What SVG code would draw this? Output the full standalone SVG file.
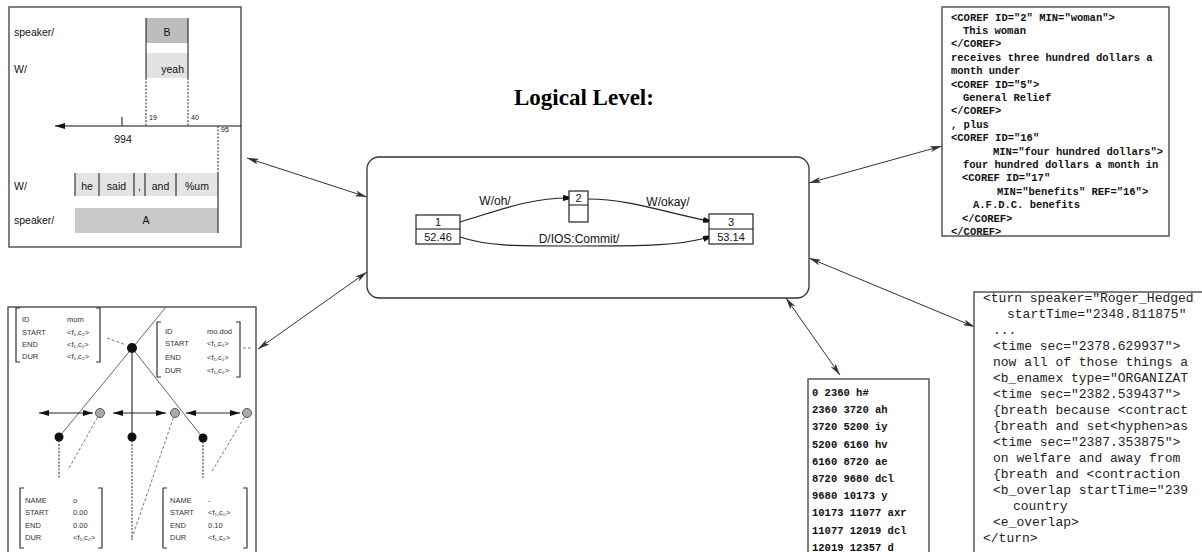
<svg xmlns="http://www.w3.org/2000/svg" width="1202" height="552" viewBox="0 0 1202 552">
<defs>
<style>
.panel{fill:#fff;stroke:#555;stroke-width:1.5}
.sans{font-family:"Liberation Sans",Arial,sans-serif;fill:#111}
.tl{font-size:10.5px}
.tiny{font-size:7px}
.avm{font-family:"Liberation Sans",Arial,sans-serif;font-size:7.5px;fill:#333}
.mono{font-family:"Liberation Mono","Courier New",monospace;fill:#111}
.tr{font-size:10.5px;font-weight:bold}
.bm{font-size:10.5px;font-weight:bold}
.br{font-size:13px;fill:#222}
.ln{stroke:#111;stroke-width:1;fill:none}
.gl{stroke:#666;stroke-width:1;fill:none}
.dot{stroke:#222;stroke-width:1;stroke-dasharray:2 1.5;fill:none}
.dash{stroke:#777;stroke-width:1;stroke-dasharray:3 2;fill:none}
.conn{stroke:#333;stroke-width:1;fill:none;marker-start:url(#ah);marker-end:url(#ah)}
.edge{stroke:#222;stroke-width:1.2;fill:none;marker-end:url(#eh)}
.node{fill:#fff;stroke:#222;stroke-width:1.2}
.br2{stroke:#333;stroke-width:1.2;fill:none}
</style>
<marker id="ah" viewBox="0 0 12 6" refX="12" refY="3" markerWidth="12" markerHeight="6" markerUnits="userSpaceOnUse" orient="auto-start-reverse">
<path d="M0,0 L12,3 L0,6 L3,3 z" fill="#333"/>
</marker>
<marker id="eh" viewBox="0 0 6 6" refX="6" refY="3" markerWidth="6" markerHeight="6" markerUnits="userSpaceOnUse" orient="auto">
<path d="M0,0 L6,1.5 L6,4.5 L0,6 z" fill="#111"/>
</marker>
<marker id="la" viewBox="0 0 10 6" refX="10" refY="3" markerWidth="10" markerHeight="6" markerUnits="userSpaceOnUse" orient="auto-start-reverse">
<path d="M0,0 L10,3 L0,6 z" fill="#111"/>
</marker>
</defs>

<g id="title">
<text x="514" y="105" font-family="'Liberation Serif','Times New Roman',serif" font-weight="bold" font-size="23" fill="#000">Logical Level:</text>
</g>

<g id="connectors">
<line class="conn" x1="247" y1="158" x2="367" y2="197"/>
<line class="conn" x1="258" y1="349" x2="367" y2="272"/>
<line class="conn" x1="809" y1="183" x2="942" y2="146"/>
<line class="conn" x1="809" y1="258" x2="975" y2="327"/>
<line class="conn" x1="786" y1="298" x2="840" y2="375"/>
</g>

<g id="timeline-panel">
<rect class="panel" x="9" y="7" width="232" height="240"/>
<rect x="146" y="18" width="42" height="25" fill="#bdbdbd"/>
<rect x="146" y="53" width="42" height="25" fill="#e2e2e2"/>
<line class="ln" x1="146" y1="18" x2="146" y2="78"/>
<line class="ln" x1="188" y1="18" x2="188" y2="78"/>
<line class="dot" x1="146" y1="78" x2="146" y2="126"/>
<line class="dot" x1="188" y1="78" x2="188" y2="126"/>
<text class="sans tl" x="14" y="36">speaker/</text>
<text class="sans tl" x="14" y="73">W/</text>
<text class="sans tl" x="167" y="36" text-anchor="middle">B</text>
<text class="sans tl" x="184" y="73" text-anchor="end">yeah</text>
<line x1="241" y1="126" x2="55" y2="126" stroke="#111" stroke-width="1.2" marker-end="url(#la)"/>
<line class="ln" x1="122" y1="117" x2="122" y2="126"/>
<text class="sans tiny" x="149" y="120">19</text>
<text class="sans tiny" x="191" y="120">40</text>
<text class="sans tl" x="123" y="143" text-anchor="middle">994</text>
<text class="sans tiny" x="221" y="132">95</text>
<line class="dot" x1="218" y1="126" x2="218" y2="172"/>
<rect x="75" y="173" width="143" height="23" fill="#e4e4e4"/>
<rect x="75" y="208" width="143" height="25" fill="#c8c8c8"/>
<line class="ln" x1="218" y1="172" x2="218" y2="233"/>
<line class="ln" x1="75" y1="173" x2="75" y2="196"/>
<line class="ln" x1="99" y1="173" x2="99" y2="196"/>
<line class="ln" x1="134" y1="173" x2="134" y2="196"/>
<line class="ln" x1="145" y1="173" x2="145" y2="196"/>
<line class="ln" x1="176" y1="173" x2="176" y2="196"/>
<text class="sans tl" x="14" y="190">W/</text>
<text class="sans tl" x="87" y="190" text-anchor="middle">he</text>
<text class="sans tl" x="116.5" y="190" text-anchor="middle">said</text>
<text class="sans tl" x="139.5" y="190" text-anchor="middle">,</text>
<text class="sans tl" x="160.5" y="190" text-anchor="middle">and</text>
<text class="sans tl" x="197" y="190" text-anchor="middle">%um</text>
<text class="sans tl" x="14" y="224">speaker/</text>
<text class="sans tl" x="146" y="224" text-anchor="middle">A</text>
</g>

<g id="logical-level">
<rect x="367" y="157" width="442" height="141" rx="12" ry="12" fill="#fff" stroke="#333" stroke-width="1.3"/>
<path class="edge" d="M460,222 C500,210 530,198 569,198"/>
<path class="edge" d="M588,199 C630,199 670,214 709,221"/>
<path class="edge" d="M460,237 C490,247 520,246 580,246 C640,246 680,246 709,237"/>
<text class="sans" font-size="12" x="495" y="205" text-anchor="middle">W/oh/</text>
<text class="sans" font-size="12" x="668" y="206" text-anchor="middle">W/okay/</text>
<text class="sans" font-size="12" x="579" y="243" text-anchor="middle">D/IOS:Commit/</text>
<g id="node1">
<rect class="node" x="416" y="215" width="44" height="29"/>
<line class="ln" x1="416" y1="229" x2="460" y2="229"/>
<text class="sans" font-size="11" x="438" y="226" text-anchor="middle">1</text>
<text class="sans" font-size="11" x="438" y="241" text-anchor="middle">52.46</text>
</g>
<g id="node2">
<rect class="node" x="569" y="191" width="19" height="31"/>
<line class="ln" x1="569" y1="205" x2="588" y2="205"/>
<text class="sans" font-size="11" x="578.5" y="202" text-anchor="middle">2</text>
</g>
<g id="node3">
<rect class="node" x="709" y="214" width="44" height="30"/>
<line class="ln" x1="709" y1="229" x2="753" y2="229"/>
<text class="sans" font-size="11" x="731" y="226" text-anchor="middle">3</text>
<text class="sans" font-size="11" x="731" y="241" text-anchor="middle">53.14</text>
</g>
</g>

<g id="coref-panel">
<rect class="panel" x="942" y="7" width="227" height="229"/>
<text class="mono tr" x="951" y="20.5">&lt;COREF ID="2" MIN="woman"&gt;</text>
<text class="mono tr" x="963" y="34">This woman</text>
<text class="mono tr" x="951" y="47.3">&lt;/COREF&gt;</text>
<text class="mono tr" x="951" y="60.7">receives three hundred dollars a</text>
<text class="mono tr" x="951" y="74.1">month under</text>
<text class="mono tr" x="951" y="87.5">&lt;COREF ID="5"&gt;</text>
<text class="mono tr" x="963" y="100.9">General Relief</text>
<text class="mono tr" x="951" y="114.3">&lt;/COREF&gt;</text>
<text class="mono tr" x="951" y="127.7">, plus</text>
<text class="mono tr" x="951" y="141.1">&lt;COREF ID="16"</text>
<text class="mono tr" x="993" y="154.5">MIN="four hundred dollars"&gt;</text>
<text class="mono tr" x="963" y="167.9">four hundred dollars a month in</text>
<text class="mono tr" x="962" y="181.3">&lt;COREF ID="17"</text>
<text class="mono tr" x="997" y="194.7">MIN="benefits" REF="16"&gt;</text>
<text class="mono tr" x="973" y="208.1">A.F.D.C. benefits</text>
<text class="mono tr" x="962" y="221.5">&lt;/COREF&gt;</text>
<text class="mono tr" x="951" y="234.9">&lt;/COREF&gt;</text>
</g>

<g id="feature-tree-panel">
<rect class="panel" x="8" y="307" width="248" height="250"/>
<line class="gl" x1="166" y1="307" x2="59" y2="437"/>
<line class="ln" x1="132" y1="348" x2="132" y2="437"/>
<line class="gl" x1="132" y1="348" x2="203" y2="438"/>
<line x1="93" y1="413" x2="39" y2="413" stroke="#222" marker-start="url(#la)" marker-end="url(#la)"/>
<line x1="113" y1="413" x2="166" y2="413" stroke="#222" marker-start="url(#la)" marker-end="url(#la)"/>
<line x1="186" y1="413" x2="240" y2="413" stroke="#222" marker-start="url(#la)" marker-end="url(#la)"/>
<line class="dot" x1="59" y1="437" x2="59" y2="478"/>
<line class="dot" x1="132" y1="437" x2="132" y2="540"/>
<line class="dot" x1="203" y1="438" x2="203" y2="478"/>
<line class="dash" x1="100" y1="413" x2="68" y2="470"/>
<line class="dash" x1="175" y1="413" x2="132" y2="538"/>
<line class="dash" x1="247" y1="413" x2="212" y2="471"/>
<line class="dash" x1="107" y1="338" x2="126" y2="345"/>
<line class="dash" x1="243" y1="348" x2="253" y2="348"/>
<circle cx="132" cy="348" r="5" fill="#111"/>
<circle cx="59" cy="437" r="4.5" fill="#111"/>
<circle cx="132" cy="437" r="4.5" fill="#111"/>
<circle cx="203" cy="438" r="4.5" fill="#111"/>
<circle cx="100" cy="413" r="4.5" fill="#aaa" stroke="#555"/>
<circle cx="175" cy="413" r="4.5" fill="#aaa" stroke="#555"/>
<circle cx="247" cy="413" r="4.5" fill="#aaa" stroke="#555"/>
<g id="avm-top-left">
<path class="br2" d="M20,308 H16 V362 H20 M96,308 H100 V362 H96"/>
<text class="avm" x="22" y="322">ID</text><text class="avm" x="67" y="322">mom</text>
<text class="avm" x="22" y="335">START</text><text class="avm" x="67" y="335">&lt;f₁,c₂&gt;</text>
<text class="avm" x="22" y="347">END</text><text class="avm" x="67" y="347">&lt;f₁,c₁&gt;</text>
<text class="avm" x="22" y="359">DUR</text><text class="avm" x="67" y="359">&lt;f₁,c₂&gt;</text>
</g>
<g id="avm-top-right">
<path class="br2" d="M161,322 H157 V377 H161 M236,322 H240 V377 H236"/>
<text class="avm" x="165" y="334">ID</text><text class="avm" x="207" y="334">mo.dod</text>
<text class="avm" x="165" y="346">START</text><text class="avm" x="207" y="346">&lt;f₁,c₁&gt;</text>
<text class="avm" x="165" y="360">END</text><text class="avm" x="207" y="360">&lt;f₁,c₁&gt;</text>
<text class="avm" x="165" y="373">DUR</text><text class="avm" x="207" y="373">&lt;f₁,c₂&gt;</text>
</g>
<g id="avm-bottom-left">
<path class="br2" d="M24,488 H20 V548 H24 M98,488 H102 V548 H98"/>
<text class="avm" x="25" y="503">NAME</text><text class="avm" x="73" y="503">o</text>
<text class="avm" x="25" y="515">START</text><text class="avm" x="73" y="515">0.00</text>
<text class="avm" x="25" y="528">END</text><text class="avm" x="73" y="528">0.00</text>
<text class="avm" x="25" y="540">DUR</text><text class="avm" x="73" y="540">&lt;f₁,c₂&gt;</text>
</g>
<g id="avm-bottom-right">
<path class="br2" d="M167,488 H163 V548 H167 M243,488 H247 V548 H243"/>
<text class="avm" x="170" y="503">NAME</text><text class="avm" x="208" y="503">-</text>
<text class="avm" x="170" y="515">START</text><text class="avm" x="208" y="515">&lt;f₁,c₀&gt;</text>
<text class="avm" x="170" y="528">END</text><text class="avm" x="208" y="528">0.10</text>
<text class="avm" x="170" y="540">DUR</text><text class="avm" x="208" y="540">&lt;f₁,c₂&gt;</text>
</g>
</g>

<g id="timit-panel">
<rect class="panel" x="808" y="379" width="121" height="180"/>
<text class="mono bm" x="812" y="396">0 2360 h#</text>
<text class="mono bm" x="812" y="413.2">2360 3720 ah</text>
<text class="mono bm" x="812" y="430.4">3720 5200 iy</text>
<text class="mono bm" x="812" y="447.6">5200 6160 hv</text>
<text class="mono bm" x="812" y="464.8">6160 8720 ae</text>
<text class="mono bm" x="812" y="482">8720 9680 dcl</text>
<text class="mono bm" x="812" y="499.2">9680 10173 y</text>
<text class="mono bm" x="812" y="516.4">10173 11077 axr</text>
<text class="mono bm" x="812" y="533.6">11077 12019 dcl</text>
<text class="mono bm" x="812" y="550.8">12019 12357 d</text>
</g>

<g id="transcript-panel">
<rect class="panel" x="974" y="292" width="240" height="270"/>
<text class="mono br" x="983" y="302">&lt;turn speaker="Roger_Hedged</text>
<text class="mono br" x="1007" y="318">startTime="2348.811875"</text>
<text class="mono br" x="993" y="334">...</text>
<text class="mono br" x="993" y="350">&lt;time sec="2378.629937"&gt;</text>
<text class="mono br" x="993" y="366">now all of those things a</text>
<text class="mono br" x="993" y="382">&lt;b_enamex type="ORGANIZAT</text>
<text class="mono br" x="993" y="398">&lt;time sec="2382.539437"&gt;</text>
<text class="mono br" x="993" y="414">{breath because &lt;contract</text>
<text class="mono br" x="993" y="430">{breath and set&lt;hyphen&gt;as</text>
<text class="mono br" x="993" y="446">&lt;time sec="2387.353875"&gt;</text>
<text class="mono br" x="993" y="462">on welfare and away from</text>
<text class="mono br" x="993" y="478">{breath and &lt;contraction</text>
<text class="mono br" x="993" y="494">&lt;b_overlap startTime="239</text>
<text class="mono br" x="1013" y="510">country</text>
<text class="mono br" x="993" y="526">&lt;e_overlap&gt;</text>
<text class="mono br" x="983" y="542">&lt;/turn&gt;</text>
</g>
</svg>
